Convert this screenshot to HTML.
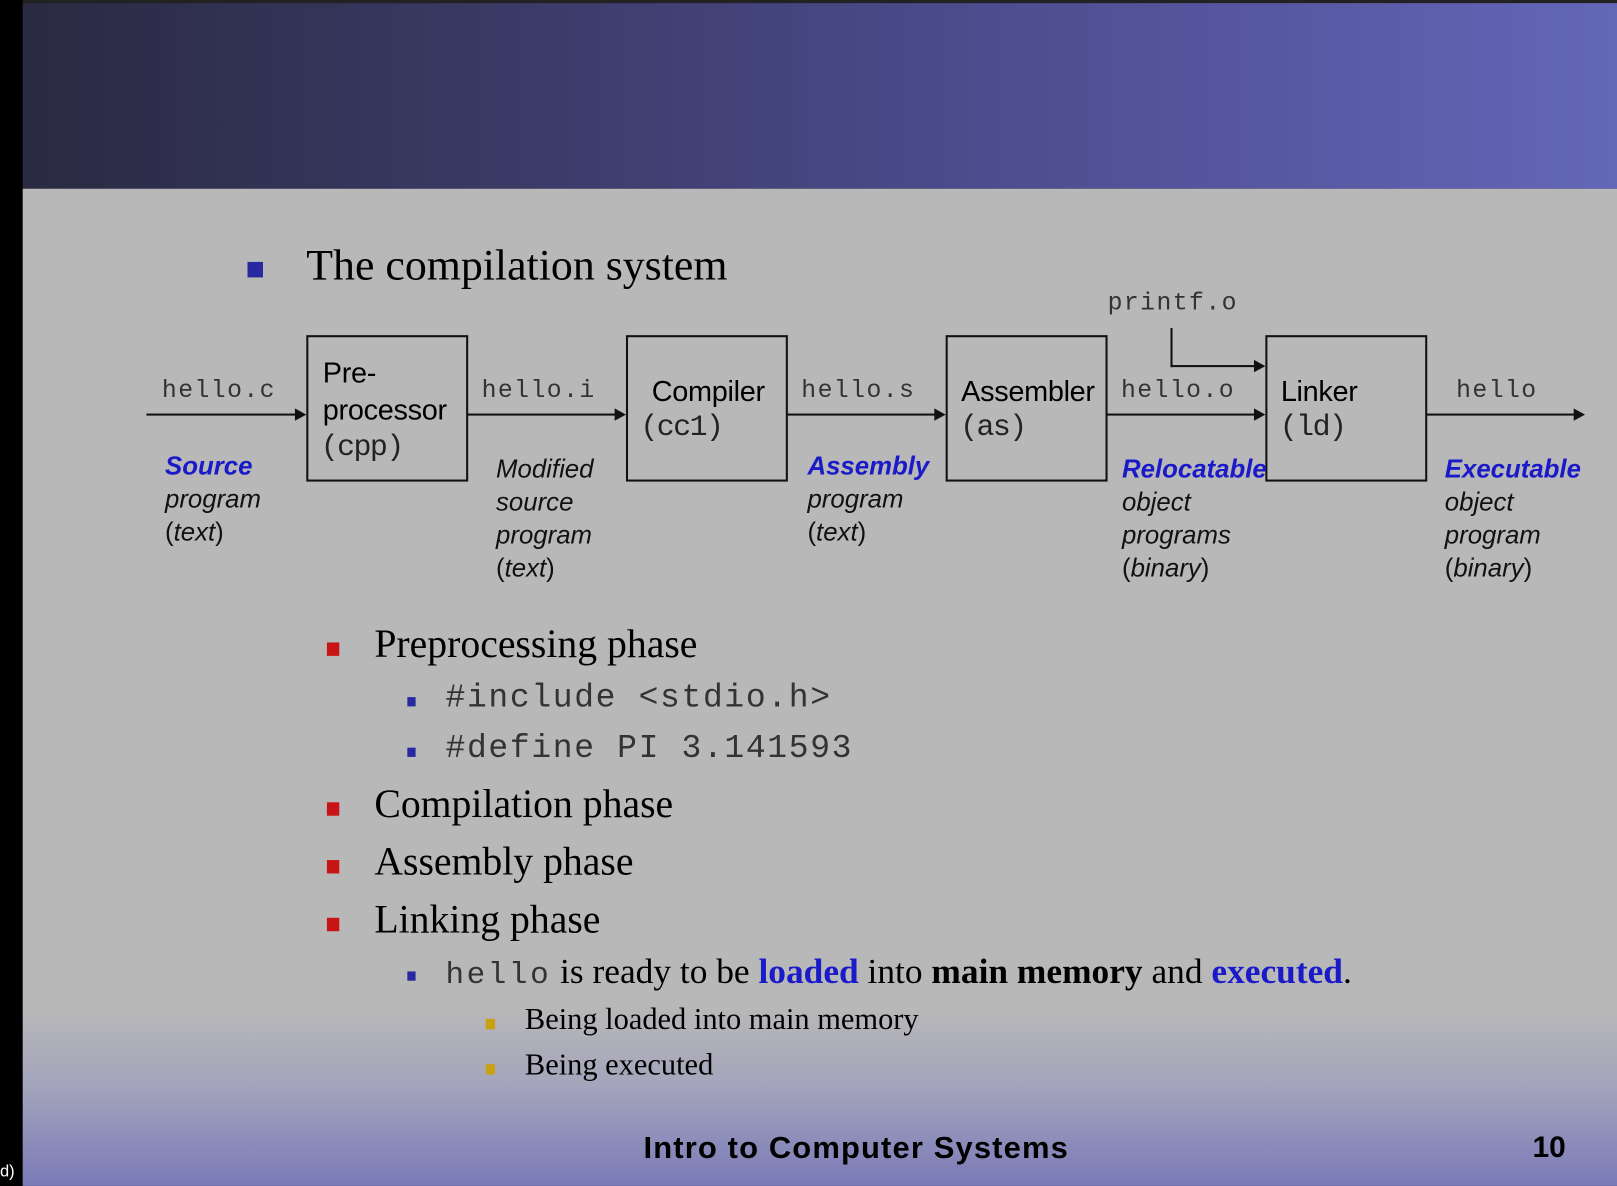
<!DOCTYPE html>
<html><head><meta charset="utf-8"><style>
html,body{margin:0;padding:0;width:1617px;height:1186px;overflow:hidden;background:#000}
#w{position:absolute;left:0;top:0;width:1568px;height:1150px;transform:scale(1.03125);transform-origin:0 0;}
.a{position:absolute;white-space:nowrap;line-height:1}
.mono{font-family:"Liberation Mono",monospace;color:#333}
.ser{font-family:"Liberation Serif",serif;color:#000}
.sans{font-family:"Liberation Sans",sans-serif;color:#000}
.it{font-family:"Liberation Sans",sans-serif;font-style:italic;font-size:25px;color:#111;line-height:32px}
.it b{color:#1a1ac8}
.it span{font-style:normal}
.box{position:absolute;border:2px solid #111;box-sizing:border-box;top:325px;height:142px;width:157px}
.line{position:absolute;background:#111;height:2px;top:401px}
.arr{position:absolute;width:0;height:0;border-top:6px solid transparent;border-bottom:6px solid transparent;border-left:11px solid #111}
.bt{font-size:28px;letter-spacing:-0.3px}
.lab{font-size:24px;letter-spacing:1.4px}
.bm{font-size:29px;color:#222;letter-spacing:-1.5px}
.sq{position:absolute}
</style></head><body><div id="w">
<div style="position:absolute;left:22px;top:0;width:1546px;height:3px;background:#222"></div>
<div style="position:absolute;left:22px;top:3px;width:1546px;height:180px;background:linear-gradient(90deg,#2a2a42,#3a3a66 30%,#4c4c8e 60%,#6466b8)"></div>
<div style="position:absolute;left:22px;top:183px;width:1546px;height:967px;background:linear-gradient(180deg,#b8b8b8 0%,#b8b8b8 82%,#a4a4bc 90%,#7a7ab8 100%)"></div>
<div class="a" style="left:0;top:1128px;font:16px 'Liberation Sans',sans-serif;color:#fff">d)</div>

<div class="sq" style="left:240px;top:254px;width:15px;height:15px;background:#2828a0"></div>
<div class="a ser" style="left:297px;top:237px;font-size:42.5px">The compilation system</div>

<div class="box" style="left:297px"></div>
<div class="box" style="left:607px"></div>
<div class="box" style="left:917px"></div>
<div class="box" style="left:1227px"></div>
<div class="line" style="left:142px;width:145px"></div><div class="arr" style="left:286px;top:396px"></div>
<div class="line" style="left:453px;width:144px"></div><div class="arr" style="left:596px;top:396px"></div>
<div class="line" style="left:763px;width:144px"></div><div class="arr" style="left:906px;top:396px"></div>
<div class="line" style="left:1073px;width:144px"></div><div class="arr" style="left:1216px;top:396px"></div>
<div class="line" style="left:1383px;width:144px"></div><div class="arr" style="left:1526px;top:396px"></div>
<div style="position:absolute;left:1135px;top:318px;width:2px;height:38px;background:#111"></div>
<div style="position:absolute;left:1135px;top:354px;width:82px;height:2px;background:#111"></div><div class="arr" style="left:1216px;top:349px"></div>

<div class="a mono lab" style="left:1074px;top:283px">printf.o</div>
<div class="a mono lab" style="left:157px;top:368px">hello.c</div>
<div class="a mono lab" style="left:467px;top:368px">hello.i</div>
<div class="a mono lab" style="left:777px;top:368px">hello.s</div>
<div class="a mono lab" style="left:1087px;top:368px">hello.o</div>
<div class="a mono lab" style="left:1412px;top:368px">hello</div>

<div class="a sans bt" style="left:313px;top:348px">Pre-</div>
<div class="a sans bt" style="left:313px;top:384px">processor</div>
<div class="a mono bm" style="left:311px;top:419px">(cpp)</div>
<div class="a sans bt" style="left:632px;top:366px">Compiler</div>
<div class="a mono bm" style="left:621px;top:400px">(cc1)</div>
<div class="a sans bt" style="left:932px;top:366px">Assembler</div>
<div class="a mono bm" style="left:931px;top:400px">(as)</div>
<div class="a sans bt" style="left:1242px;top:366px">Linker</div>
<div class="a mono bm" style="left:1241px;top:400px">(ld)</div>

<div class="a it" style="left:160px;top:436px"><b>Source</b><br>program<br><span>(</span>text<span>)</span></div>
<div class="a it" style="left:481px;top:439px">Modified<br>source<br>program<br><span>(</span>text<span>)</span></div>
<div class="a it" style="left:783px;top:436px"><b>Assembly</b><br>program<br><span>(</span>text<span>)</span></div>
<div class="a it" style="left:1088px;top:439px"><b>Relocatable</b><br>object<br>programs<br><span>(</span>binary<span>)</span></div>
<div class="a it" style="left:1401px;top:439px"><b>Executable</b><br>object<br>program<br><span>(</span>binary<span>)</span></div>

<div class="sq" style="left:317px;top:623px;width:12px;height:13px;background:#c81414"></div>
<div class="a ser" style="left:363px;top:606px;font-size:38.5px">Preprocessing phase</div>
<div class="sq" style="left:395px;top:676px;width:8px;height:9px;background:#2828a0"></div>
<div class="a mono" style="left:432px;top:661px;font-size:32px;letter-spacing:1.6px">#include &lt;stdio.h&gt;</div>
<div class="sq" style="left:395px;top:725px;width:8px;height:9px;background:#2828a0"></div>
<div class="a mono" style="left:432px;top:710px;font-size:32px;letter-spacing:1.6px">#define PI 3.141593</div>
<div class="sq" style="left:317px;top:778px;width:12px;height:13px;background:#c81414"></div>
<div class="a ser" style="left:363px;top:761px;font-size:38.5px">Compilation phase</div>
<div class="sq" style="left:317px;top:834px;width:12px;height:13px;background:#c81414"></div>
<div class="a ser" style="left:363px;top:817px;font-size:38.5px">Assembly phase</div>
<div class="sq" style="left:317px;top:890px;width:12px;height:13px;background:#c81414"></div>
<div class="a ser" style="left:363px;top:873px;font-size:38.5px">Linking phase</div>
<div class="sq" style="left:395px;top:942px;width:8px;height:9px;background:#2828a0"></div>
<div class="a ser" style="left:432px;top:925px;font-size:34.3px"><span class="mono" style="font-size:30px;letter-spacing:2.5px">hello</span> is ready to be <b style="color:#1a1ac8">loaded</b> into <b>main memory</b> and <b style="color:#1a1ac8">executed</b>.</div>
<div class="sq" style="left:471px;top:988px;width:9px;height:10px;background:#c8a010"></div>
<div class="a ser" style="left:509px;top:975px;font-size:29.5px">Being loaded into main memory</div>
<div class="sq" style="left:471px;top:1032px;width:9px;height:10px;background:#c8a010"></div>
<div class="a ser" style="left:509px;top:1019px;font-size:29.5px">Being executed</div>

<div class="a sans" style="left:624px;top:1099px;font-size:30px;font-weight:bold;letter-spacing:1.1px">Intro to Computer Systems</div>
<div class="a sans" style="left:1486px;top:1099px;font-size:29px;font-weight:bold">10</div>
</div></body></html>
